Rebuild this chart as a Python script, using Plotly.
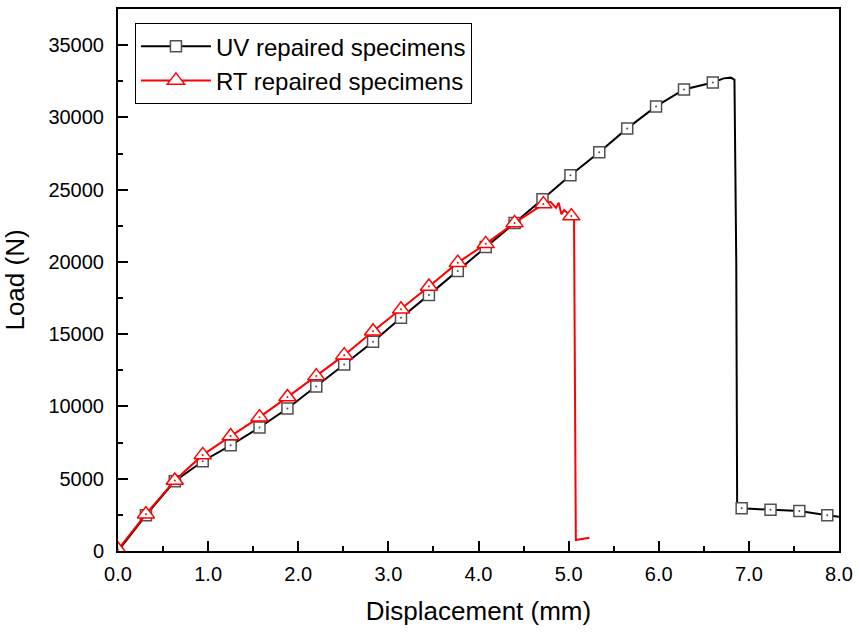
import plotly.graph_objects as go

# ---- data ----
uv_x = [0.0, 0.31, 0.63, 0.94, 1.25, 1.57, 1.88, 2.20, 2.51, 2.83, 3.14, 3.45, 3.77,
        4.08, 4.40, 4.71, 5.02, 5.34, 5.65, 5.97, 6.28, 6.60, 6.72, 6.80, 6.84, 6.86,
        6.87, 6.92, 7.24, 7.56, 7.87, 8.00]
uv_y = [0, 2480, 4830, 6210, 7310, 8550, 9860, 11380, 12900, 14480, 16140, 17720, 19380,
        21030, 22690, 24340, 26000, 27590, 29240, 30760, 31930, 32410, 32700, 32750, 32600,
        20000, 3100, 2950, 2850, 2760, 2480, 2370]
uv_marker_idx = [1, 2, 3, 4, 5, 6, 7, 8, 9, 10, 11, 12, 13, 14, 15, 16, 17, 18, 19,
                 20, 21, 27, 28, 29, 30]

rt_x = [0.0, 0.31, 0.63, 0.94, 1.25, 1.57, 1.88, 2.20, 2.51, 2.83, 3.14, 3.45, 3.77,
        4.08, 4.40, 4.72, 4.80, 4.86, 4.89, 4.92, 4.95, 5.03, 5.06, 5.08, 5.23]
rt_y = [100, 2550, 4880, 6650, 7950, 9260, 10650, 12100, 13550, 15200, 16720, 18300, 19950,
        21250, 22700, 24000, 24160, 23740, 24090, 23300, 23600, 23170, 22900, 760, 920]
rt_marker_idx = [0, 1, 2, 3, 4, 5, 6, 7, 8, 9, 10, 11, 12, 13, 14, 15, 21]

series_names = ["UV repaired specimens", "RT repaired specimens"]
x_ticks = [0, 1, 2, 3, 4, 5, 6, 7, 8]
x_ticklabels = ["0.0", "1.0", "2.0", "3.0", "4.0", "5.0", "6.0", "7.0", "8.0"]
y_ticks = [0, 5000, 10000, 15000, 20000, 25000, 30000, 35000]

UV_COLOR = "#000000"
RT_COLOR = "#ff0000"
SQ_EDGE = "#505050"
FONT = "Arial, Liberation Sans, sans-serif"

fig = go.Figure()

def add_series(xs, ys, idx, color, symbol, msize, edge, name):
    fig.add_trace(go.Scatter(x=xs, y=ys, mode="lines",
                             line=dict(color=color, width=2),
                             showlegend=False, hoverinfo="skip"))
    mx = [xs[i] for i in idx]
    my = [ys[i] for i in idx]
    fig.add_trace(go.Scatter(x=mx, y=my, mode="markers",
                             marker=dict(symbol=symbol, size=msize, color="white",
                                         line=dict(color=edge, width=1.5)),
                             showlegend=False))
    fig.add_trace(go.Scatter(x=mx, y=my, mode="markers",
                             marker=dict(symbol="circle", size=2, color=edge,
                                         line=dict(width=0)),
                             showlegend=False, hoverinfo="skip"))
    fig.add_trace(go.Scatter(x=[None], y=[None], mode="lines+markers", name=name,
                             line=dict(color=color, width=2),
                             marker=dict(symbol=symbol, size=msize, color="white",
                                         line=dict(color=edge, width=1.5))))

add_series(uv_x, uv_y, uv_marker_idx, UV_COLOR, "square", 11, SQ_EDGE, series_names[0])
add_series(rt_x, rt_y, rt_marker_idx, RT_COLOR, "triangle-up", 15, RT_COLOR, series_names[1])

axis_common = dict(
    showline=True, linecolor="black", linewidth=2, mirror=True,
    ticks="inside", ticklen=10, tickwidth=2, tickcolor="black",
    showgrid=False, zeroline=False,
    tickfont=dict(family=FONT, size=20, color="black"),
)

fig.update_layout(
    width=860, height=632,
    margin=dict(l=118, r=20, t=7, b=81),
    paper_bgcolor="white", plot_bgcolor="white",
    font=dict(family=FONT, color="black"),
    xaxis=dict(range=[0, 8], tickvals=x_ticks, ticktext=x_ticklabels,
               ticklabelstandoff=4,
               minor=dict(ticks="inside", ticklen=5, tickwidth=2, tickcolor="black", dtick=0.5),
               title=dict(text="Displacement (mm)", font=dict(size=26), standoff=18),
               **axis_common),
    yaxis=dict(range=[0, 37500], tickvals=y_ticks, tickformat="d",
               ticklabelstandoff=8,
               minor=dict(ticks="inside", ticklen=5, tickwidth=2, tickcolor="black", dtick=2500),
               title=dict(text="Load (N)", font=dict(size=26), standoff=16),
               **axis_common),
    legend=dict(x=0.0235, y=0.974, xanchor="left", yanchor="top",
                bgcolor="white", bordercolor="black", borderwidth=1,
                font=dict(size=24, color="black"), itemwidth=70,
                tracegroupgap=0),
)

fig.write_html("out.html")
